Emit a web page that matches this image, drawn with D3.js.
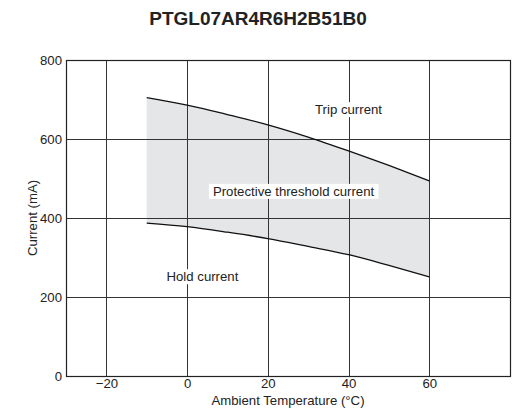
<!DOCTYPE html>
<html><head><meta charset="utf-8">
<script src="https://cdn.jsdelivr.net/npm/d3@7"></script>
<style>body{margin:0;background:#fff}svg{display:block}text{font-family:"Liberation Sans",Arial,sans-serif}</style>
</head><body><svg id="c" width="516" height="410"></svg>
<script>
const title = "PTGL07AR4R6H2B51B0";
const temps = [-10, 0, 10, 20, 30, 40, 50, 60];
const tripCurrent = [705, 686, 662, 636, 605, 570, 533, 494];
const holdCurrent = [387, 378, 364, 348, 328, 307, 280, 251];
const xTicks = [-20, 0, 20, 40, 60];
const yTicks = [0, 200, 400, 600, 800];
const xLabel = "Ambient Temperature (°C)";
const yLabel = "Current (mA)";
const labels = [
  {text: "Trip current", t: 31.7, v: 663},
  {text: "Protective threshold current", t: 6.4, v: 456},
  {text: "Hold current", t: -5.1, v: 240}
];

const svg = d3.select("#c");
const m = {l: 66, r: 6, t: 60, b: 34};
const W = 516, H = 410;
const FS = 13.2;
const x = d3.scaleLinear().domain([-30, 80]).range([m.l, W - m.r]);
const y = d3.scaleLinear().domain([0, 800]).range([H - m.b, m.t]);

const data = temps.map((t, i) => ({t, trip: tripCurrent[i], hold: holdCurrent[i]}));

svg.append("text").attr("x", 258).attr("y", 25).attr("text-anchor", "middle")
  .attr("font-size", 19).attr("font-weight", "bold").attr("fill", "#222").text(title);

// band
svg.append("path").datum(data)
  .attr("d", d3.area().x(d => x(d.t)).y0(d => y(d.hold)).y1(d => y(d.trip)).curve(d3.curveMonotoneX))
  .attr("fill", "#e5e6e8");

// grid
const g = svg.append("g");
g.selectAll(".vx").data(xTicks).join("line")
  .attr("x1", d => Math.round(x(d)) + 0.5).attr("x2", d => Math.round(x(d)) + 0.5)
  .attr("y1", y(800)).attr("y2", y(0)).attr("stroke", "#333").attr("stroke-width", 1);
g.selectAll(".hy").data(yTicks).join("line")
  .attr("y1", d => Math.round(y(d)) + 0.5).attr("y2", d => Math.round(y(d)) + 0.5)
  .attr("x1", x(-30)).attr("x2", x(80)).attr("stroke", "#333").attr("stroke-width", 1);

// curves
["trip", "hold"].forEach(k => {
  svg.append("path").datum(data)
    .attr("d", d3.line().x(d => x(d.t)).y(d => y(d[k])).curve(d3.curveMonotoneX))
    .attr("fill", "none").attr("stroke", "#111").attr("stroke-width", 1.3);
});

// border
svg.append("rect").attr("x", Math.round(x(-30)) + 0.5).attr("y", Math.round(y(800)) + 0.5)
  .attr("width", Math.round(x(80)) - Math.round(x(-30))).attr("height", Math.round(y(0)) - Math.round(y(800)))
  .attr("fill", "none").attr("stroke", "#222").attr("stroke-width", 1.2);

// labels
labels.forEach(l => {
  const t = svg.append("text").attr("x", x(l.t)).attr("y", y(l.v)).attr("font-size", FS)
    .attr("fill", "#222").text(l.text);
  const bb = t.node().getBBox();
  svg.insert("rect", () => t.node()).attr("x", bb.x - 4).attr("y", bb.y)
    .attr("width", bb.width + 8).attr("height", bb.height).attr("fill", "#fff");
});

// axes
const xa = svg.append("g").attr("transform", `translate(0,${y(0)})`)
  .call(d3.axisBottom(x).tickValues(xTicks).tickSize(0).tickPadding(3).tickFormat(d => d < 0 ? "\u2212" + Math.abs(d) : d));
const ya = svg.append("g").attr("transform", `translate(${x(-30)},0)`)
  .call(d3.axisLeft(y).tickValues(yTicks).tickSize(0).tickPadding(4));
[xa, ya].forEach(a => {
  a.select(".domain").remove();
  a.selectAll("text").attr("font-size", FS).attr("fill", "#222").attr("font-family", '"Liberation Sans",Arial,sans-serif');
});

svg.append("text").attr("x", (x(-30) + x(80)) / 2).attr("y", 405).attr("text-anchor", "middle")
  .attr("font-size", FS).attr("fill", "#222").text(xLabel);
svg.append("text").attr("transform", `translate(37,${(y(0) + y(800)) / 2}) rotate(-90)`)
  .attr("text-anchor", "middle").attr("font-size", FS).attr("fill", "#222").text(yLabel);
</script></body></html>
